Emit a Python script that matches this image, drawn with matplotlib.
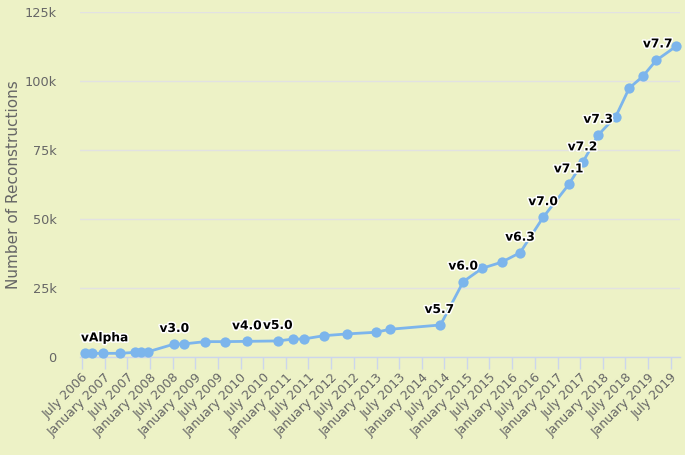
import matplotlib
matplotlib.use("Agg")
import matplotlib.pyplot as plt
import matplotlib.dates as mdates
import matplotlib.patheffects as pe
import pandas as pd

dates = ["2006-07-25", "2006-09-22", "2006-12-20", "2007-05-04", "2007-09-02",
         "2007-10-18", "2007-12-18", "2008-07-16", "2008-09-27", "2009-03-20",
         "2009-08-30", "2010-02-21", "2010-10-29", "2011-03-03", "2011-05-23",
         "2011-11-02", "2012-05-08", "2012-12-24", "2013-04-23", "2014-06-01",
         "2014-12-02", "2015-05-04", "2015-10-07", "2016-03-04", "2016-09-07",
         "2017-04-01", "2017-07-22", "2017-11-25", "2018-04-15", "2018-08-01",
         "2018-11-18", "2019-03-06", "2019-08-13"]
counts = [1150, 1150, 1150, 1150, 1500, 1750, 1750, 4550, 4550, 5400,
          5400, 5500, 5650, 6350, 6350, 7550, 8200, 8800, 9900, 11450,
          27200, 32050, 34250, 37700, 50600, 62500, 70500, 80500, 87150,
          97450, 101700, 107500, 112600]
versions = ["vAlpha", "", "", "", "", "", "", "v3.0", "", "", "", "v4.0", "v5.0",
            "", "", "", "", "", "", "v5.7", "v6.0", "", "", "v6.3", "v7.0",
            "v7.1", "v7.2", "v7.3", "", "", "", "", "v7.7"]
y_ticks = [0, 25000, 50000, 75000, 100000, 125000]
y_ticklabels = ["0", "25k", "50k", "75k", "100k", "125k"]
y_title = "Number of Reconstructions"

bg = "#EDF2C6"
line_c = "#7cb5ec"
axis_c = "#ccd6eb"
text_c = "#666666"

x = pd.to_datetime(dates)

fig = plt.figure(figsize=(6.85, 4.55), dpi=100, facecolor=bg)
ax = fig.add_axes([80/685, 1 - 356.5/455, 600/685, (356.5 - 12.3)/455])
ax.set_facecolor(bg)

ax.plot(x, counts, color=line_c, lw=2.0, marker="o", markersize=7.4,
        markeredgewidth=0, zorder=3, clip_on=False)

for xi, yi, lab in zip(x, counts, versions):
    if not lab:
        continue
    ha = "center"
    off = (0, 9)
    if lab == "vAlpha":
        ha = "left"
        off = (-4, 9)
    elif lab == "v7.7":
        ha = "right"
        off = (-3, -4)
    elif lab == "v5.7":
        off = (-1, 9)
    ax.annotate(lab, (xi, yi), xytext=off, textcoords="offset pixels",
                ha=ha, va="bottom", fontsize=8.8, fontweight="bold",
                color="black", zorder=5,
                path_effects=[pe.withStroke(linewidth=2.2, foreground="white")])

ax.set_ylim(0, 125000)
ax.set_yticks(y_ticks)
ax.set_yticklabels(y_ticklabels)
ax.set_xlim(pd.Timestamp("2006-06-15"), pd.Timestamp("2019-09-15"))

ax.xaxis.set_major_locator(mdates.MonthLocator(bymonth=[1, 7]))
ax.xaxis.set_major_formatter(mdates.DateFormatter("%B %Y"))

for s in ["top", "right", "left"]:
    ax.spines[s].set_visible(False)
ax.spines["bottom"].set_color(axis_c)
ax.spines["bottom"].set_linewidth(1.0)

ax.grid(axis="y", color="#e2e2e2", lw=1.0)
ax.set_axisbelow(True)

ax.tick_params(axis="y", length=0, pad=17, labelsize=9.3, labelcolor=text_c)
ax.tick_params(axis="x", length=8.5, width=1.0, color=axis_c, pad=2,
               labelsize=9.0, labelcolor=text_c)
for lbl in ax.get_xticklabels():
    lbl.set_rotation(45)
    lbl.set_ha("right")
    lbl.set_rotation_mode("anchor")

ax.set_ylabel(y_title, fontsize=11, color=text_c)
ax.yaxis.set_label_coords(-59/600, 0.5)

fig.savefig("out.png", dpi=100, facecolor=bg)
